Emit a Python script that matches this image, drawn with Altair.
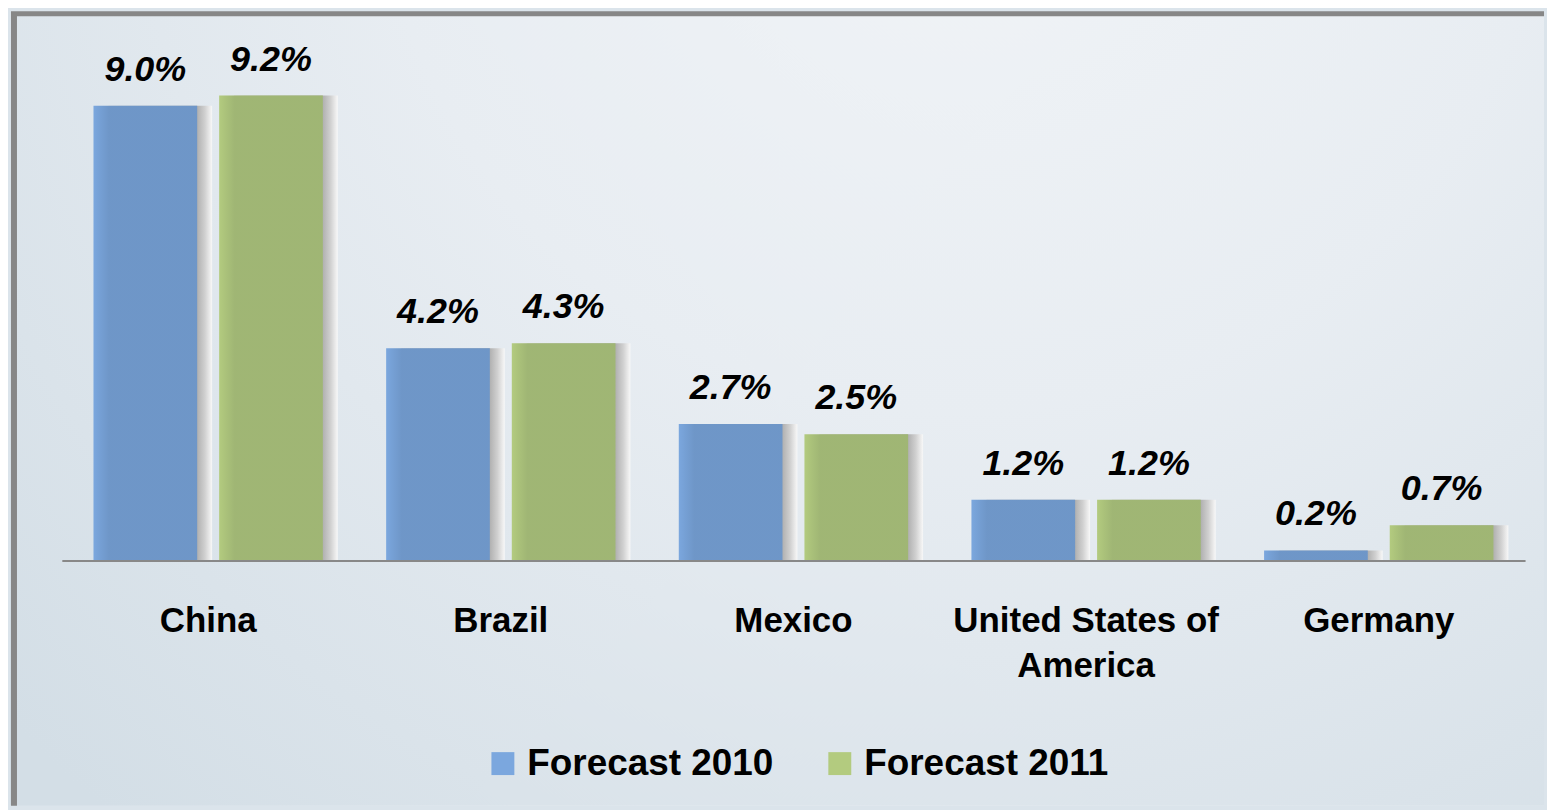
import altair as alt
import pandas as pd

# ---- data ----
countries = ["China", "Brazil", "Mexico", "United States of America", "Germany"]
series_names = ["Forecast 2010", "Forecast 2011"]
forecast_2010 = [9.0, 4.2, 2.7, 1.2, 0.2]
forecast_2011 = [9.2, 4.3, 2.5, 1.2, 0.7]
series_colors = ["#7ba7de", "#b3cb7f"]

rows = []
for c, v in zip(countries, forecast_2010):
    rows.append({"country": c, "series": series_names[0], "value": v})
for c, v in zip(countries, forecast_2011):
    rows.append({"country": c, "series": series_names[1], "value": v})
df = pd.DataFrame(rows)

W, H = 1468, 507
STEP = W / len(countries)
P_IN, P_OUT = 0.175, 0.252

x_enc = alt.X(
    "country:N",
    sort=countries,
    scale=alt.Scale(paddingInner=0, paddingOuter=0),
    axis=alt.Axis(
        title=None,
        labelAngle=0,
        ticks=False,
        tickSize=0,
        domainColor="#888888",
        domainWidth=2,
        labelFont="Liberation Sans",
        labelFontWeight="bold",
        labelFontSize=35,
        labelColor="#000000",
        labelBaseline="alphabetic",
        labelPadding=71,
        labelLineHeight=45,
        labelLimit=400,
        zindex=1,
        labelExpr="datum.value == 'United States of America' ? ['United States of', 'America'] : datum.value",
    ),
)
xo_enc = alt.XOffset(
    "series:N", sort=series_names,
    scale=alt.Scale(type="band", paddingInner=P_IN, paddingOuter=P_OUT),
)
# the shadow uses its own offset scale, shifted a few pixels to the right
xo_shadow = alt.XOffset(
    "series:N", sort=series_names,
    scale=alt.Scale(type="band", paddingInner=P_IN, paddingOuter=P_OUT, range=[15, STEP + 15]),
)
y_enc = alt.Y("value:Q", scale=alt.Scale(domain=[0, 10], nice=False), axis=None)

# ---- decoration: page gradient and frame ----
bg = alt.Chart(pd.DataFrame({"k": [0]})).mark_rect(
    fill={
        "gradient": "radial",
        "x1": 0.62, "y1": 0.12, "r1": 0,
        "x2": 0.62, "y2": 0.12, "r2": 0.85,
        "stops": [
            {"offset": 0, "color": "#f1f4f7"},
            {"offset": 0.45, "color": "#e8edf2"},
            {"offset": 1, "color": "#d3dee6"},
        ],
    }
).encode(
    x=alt.value(-52), x2=alt.value(W + 19),
    y=alt.value(-43), y2=alt.value(H + 246),
)
frame_top = alt.Chart(pd.DataFrame({"k": [0]})).mark_rule(
    color="#878787", strokeWidth=5
).encode(x=alt.value(-51), x2=alt.value(W + 19), y=alt.value(-41.5))
frame_left = alt.Chart(pd.DataFrame({"k": [0]})).mark_rule(
    color="#878787", strokeWidth=6
).encode(x=alt.value(-48), y=alt.value(-43), y2=alt.value(H + 246))

base = alt.Chart(df)

shadow = base.mark_bar(
    fill={
        "gradient": "linear", "x1": 0, "y1": 0, "x2": 1, "y2": 0,
        "stops": [
            {"offset": 0, "color": "#d4d4d4"},
            {"offset": 0.1, "color": "#c8c8c8"},
            {"offset": 0.85, "color": "#aeaeae"},
            {"offset": 0.93, "color": "#d0d0d0"},
            {"offset": 1, "color": "#f8f8f8"},
        ],
    },
).encode(x=x_enc, xOffset=xo_shadow, y=y_enc, y2=alt.value(H + 5))

bars = base.mark_bar().encode(
    x=x_enc,
    xOffset=xo_enc,
    y=y_enc,
    color=alt.Color(
        "series:N",
        sort=series_names,
        scale=alt.Scale(domain=series_names, range=series_colors),
        legend=alt.Legend(
            title=None,
            orient="none",
            direction="horizontal",
            legendX=424,
            legendY=692,
            symbolType="square",
            symbolSize=529,
            symbolStrokeWidth=0,
            symbolOpacity=1,
            labelFont="Liberation Sans",
            labelFontWeight="bold",
            labelFontSize=37,
            labelColor="#000000",
            labelOffset=6,
            labelLimit=400,
            columnPadding=48,
            padding=0,
        ),
    ),
)

shade = base.mark_bar(
    fill={
        "gradient": "linear", "x1": 0, "y1": 0, "x2": 1, "y2": 0,
        "stops": [
            {"offset": 0, "color": "rgba(20,30,40,0)"},
            {"offset": 0.07, "color": "rgba(20,30,40,0.06)"},
            {"offset": 0.15, "color": "rgba(20,30,40,0.12)"},
            {"offset": 1, "color": "rgba(20,30,40,0.12)"},
        ],
    }
).encode(x=x_enc, xOffset=xo_enc, y=y_enc)

labels = base.transform_calculate(
    label="format(datum.value, '.1f') + '%'"
).mark_text(
    dy=-25,
    baseline="alphabetic",
    align="center",
    font="Liberation Sans",
    fontStyle="italic",
    fontWeight="bold",
    fontSize=36,
    color="#000000",
).encode(x=x_enc, xOffset=xo_enc, y=y_enc, text="label:N")

chart = alt.layer(
    bg, frame_top, frame_left, shadow, bars, shade, labels
).resolve_scale(xOffset="independent").properties(
    width=W, height=H, padding=0, background="#dbe4eb"
).configure_view(stroke=None)

chart.save("out.html", embed_options={"renderer": "svg", "actions": False})
